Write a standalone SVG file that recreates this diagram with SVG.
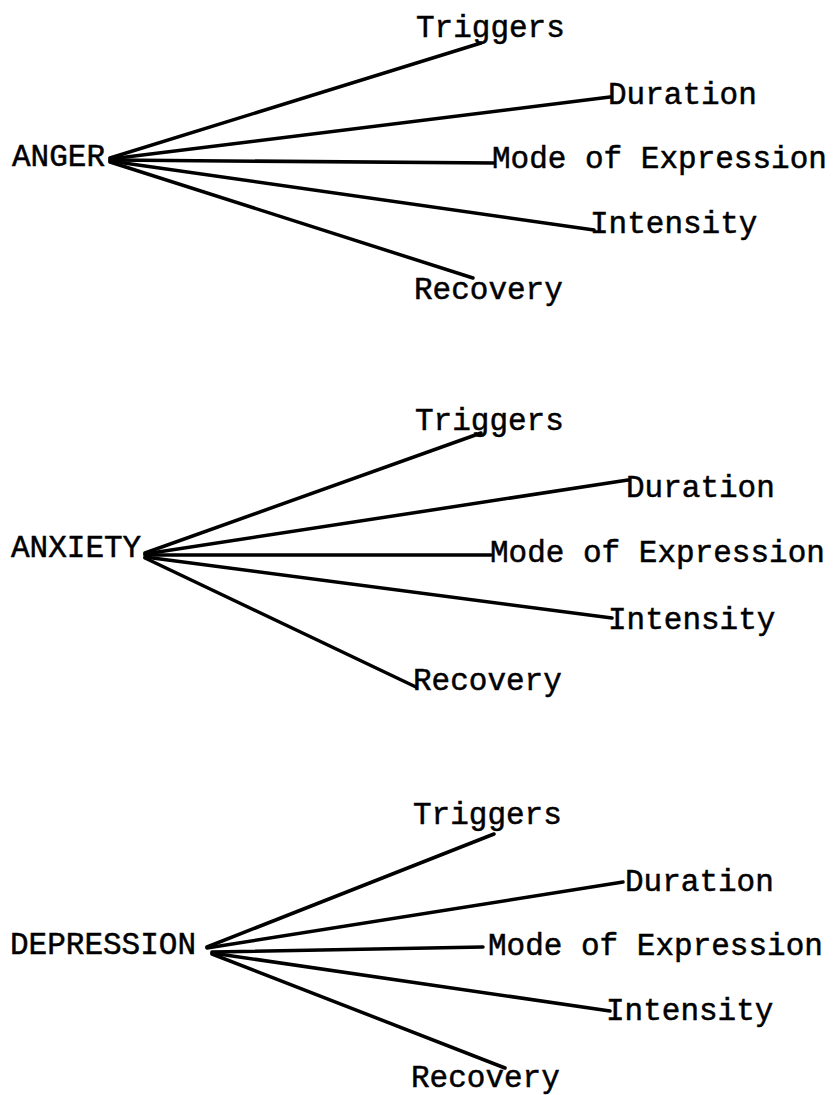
<svg xmlns="http://www.w3.org/2000/svg" width="838" height="1095" viewBox="0 0 838 1095">
<style>
text{font-family:"Liberation Mono","DejaVu Sans Mono",monospace;font-size:31px;fill:#000;stroke:#000;stroke-width:0.5}
.c line{stroke:#000;stroke-width:3.5;stroke-linecap:round}
</style>
<rect width="838" height="1095" fill="#fff"/>
<g class="c" id="connectors">
<line x1="110" y1="158" x2="481" y2="43"/>
<line x1="110" y1="159" x2="610" y2="97"/>
<line x1="110" y1="160" x2="494" y2="163"/>
<line x1="110" y1="161" x2="594" y2="230"/>
<line x1="110" y1="162" x2="473" y2="278"/>
<line x1="145" y1="553" x2="481" y2="433"/>
<line x1="145" y1="554" x2="628" y2="480"/>
<line x1="145" y1="555" x2="491" y2="555"/>
<line x1="145" y1="557" x2="612" y2="618"/>
<line x1="145" y1="558" x2="416" y2="687"/>
<line x1="207" y1="947" x2="494" y2="834"/>
<line x1="207" y1="948" x2="623" y2="882"/>
<line x1="212" y1="952" x2="483" y2="947"/>
<line x1="212" y1="953" x2="610" y2="1011"/>
<line x1="212" y1="954" x2="505" y2="1068"/>
</g>
<g id="anger"><text x="12" y="166">ANGER</text></g>
<g id="anger-triggers"><text x="416" y="37">Triggers</text></g>
<g id="anger-duration"><text x="608" y="104">Duration</text></g>
<g id="anger-mode"><text x="492" y="168">Mode of Expression</text></g>
<g id="anger-intensity"><text x="590" y="233">Intensity</text></g>
<g id="anger-recovery"><text x="414" y="299">Recovery</text></g>
<g id="anxiety"><text x="11" y="557">ANXIETY</text></g>
<g id="anxiety-triggers"><text x="415" y="430">Triggers</text></g>
<g id="anxiety-duration"><text x="626" y="497">Duration</text></g>
<g id="anxiety-mode"><text x="490" y="562">Mode of Expression</text></g>
<g id="anxiety-intensity"><text x="608" y="629">Intensity</text></g>
<g id="anxiety-recovery"><text x="413" y="690">Recovery</text></g>
<g id="depression"><text x="10" y="954">DEPRESSION</text></g>
<g id="depression-triggers"><text x="413" y="824">Triggers</text></g>
<g id="depression-duration"><text x="625" y="891">Duration</text></g>
<g id="depression-mode"><text x="488" y="955">Mode of Expression</text></g>
<g id="depression-intensity"><text x="606" y="1020">Intensity</text></g>
<g id="depression-recovery"><text x="411" y="1087">Recovery</text></g>
</svg>
